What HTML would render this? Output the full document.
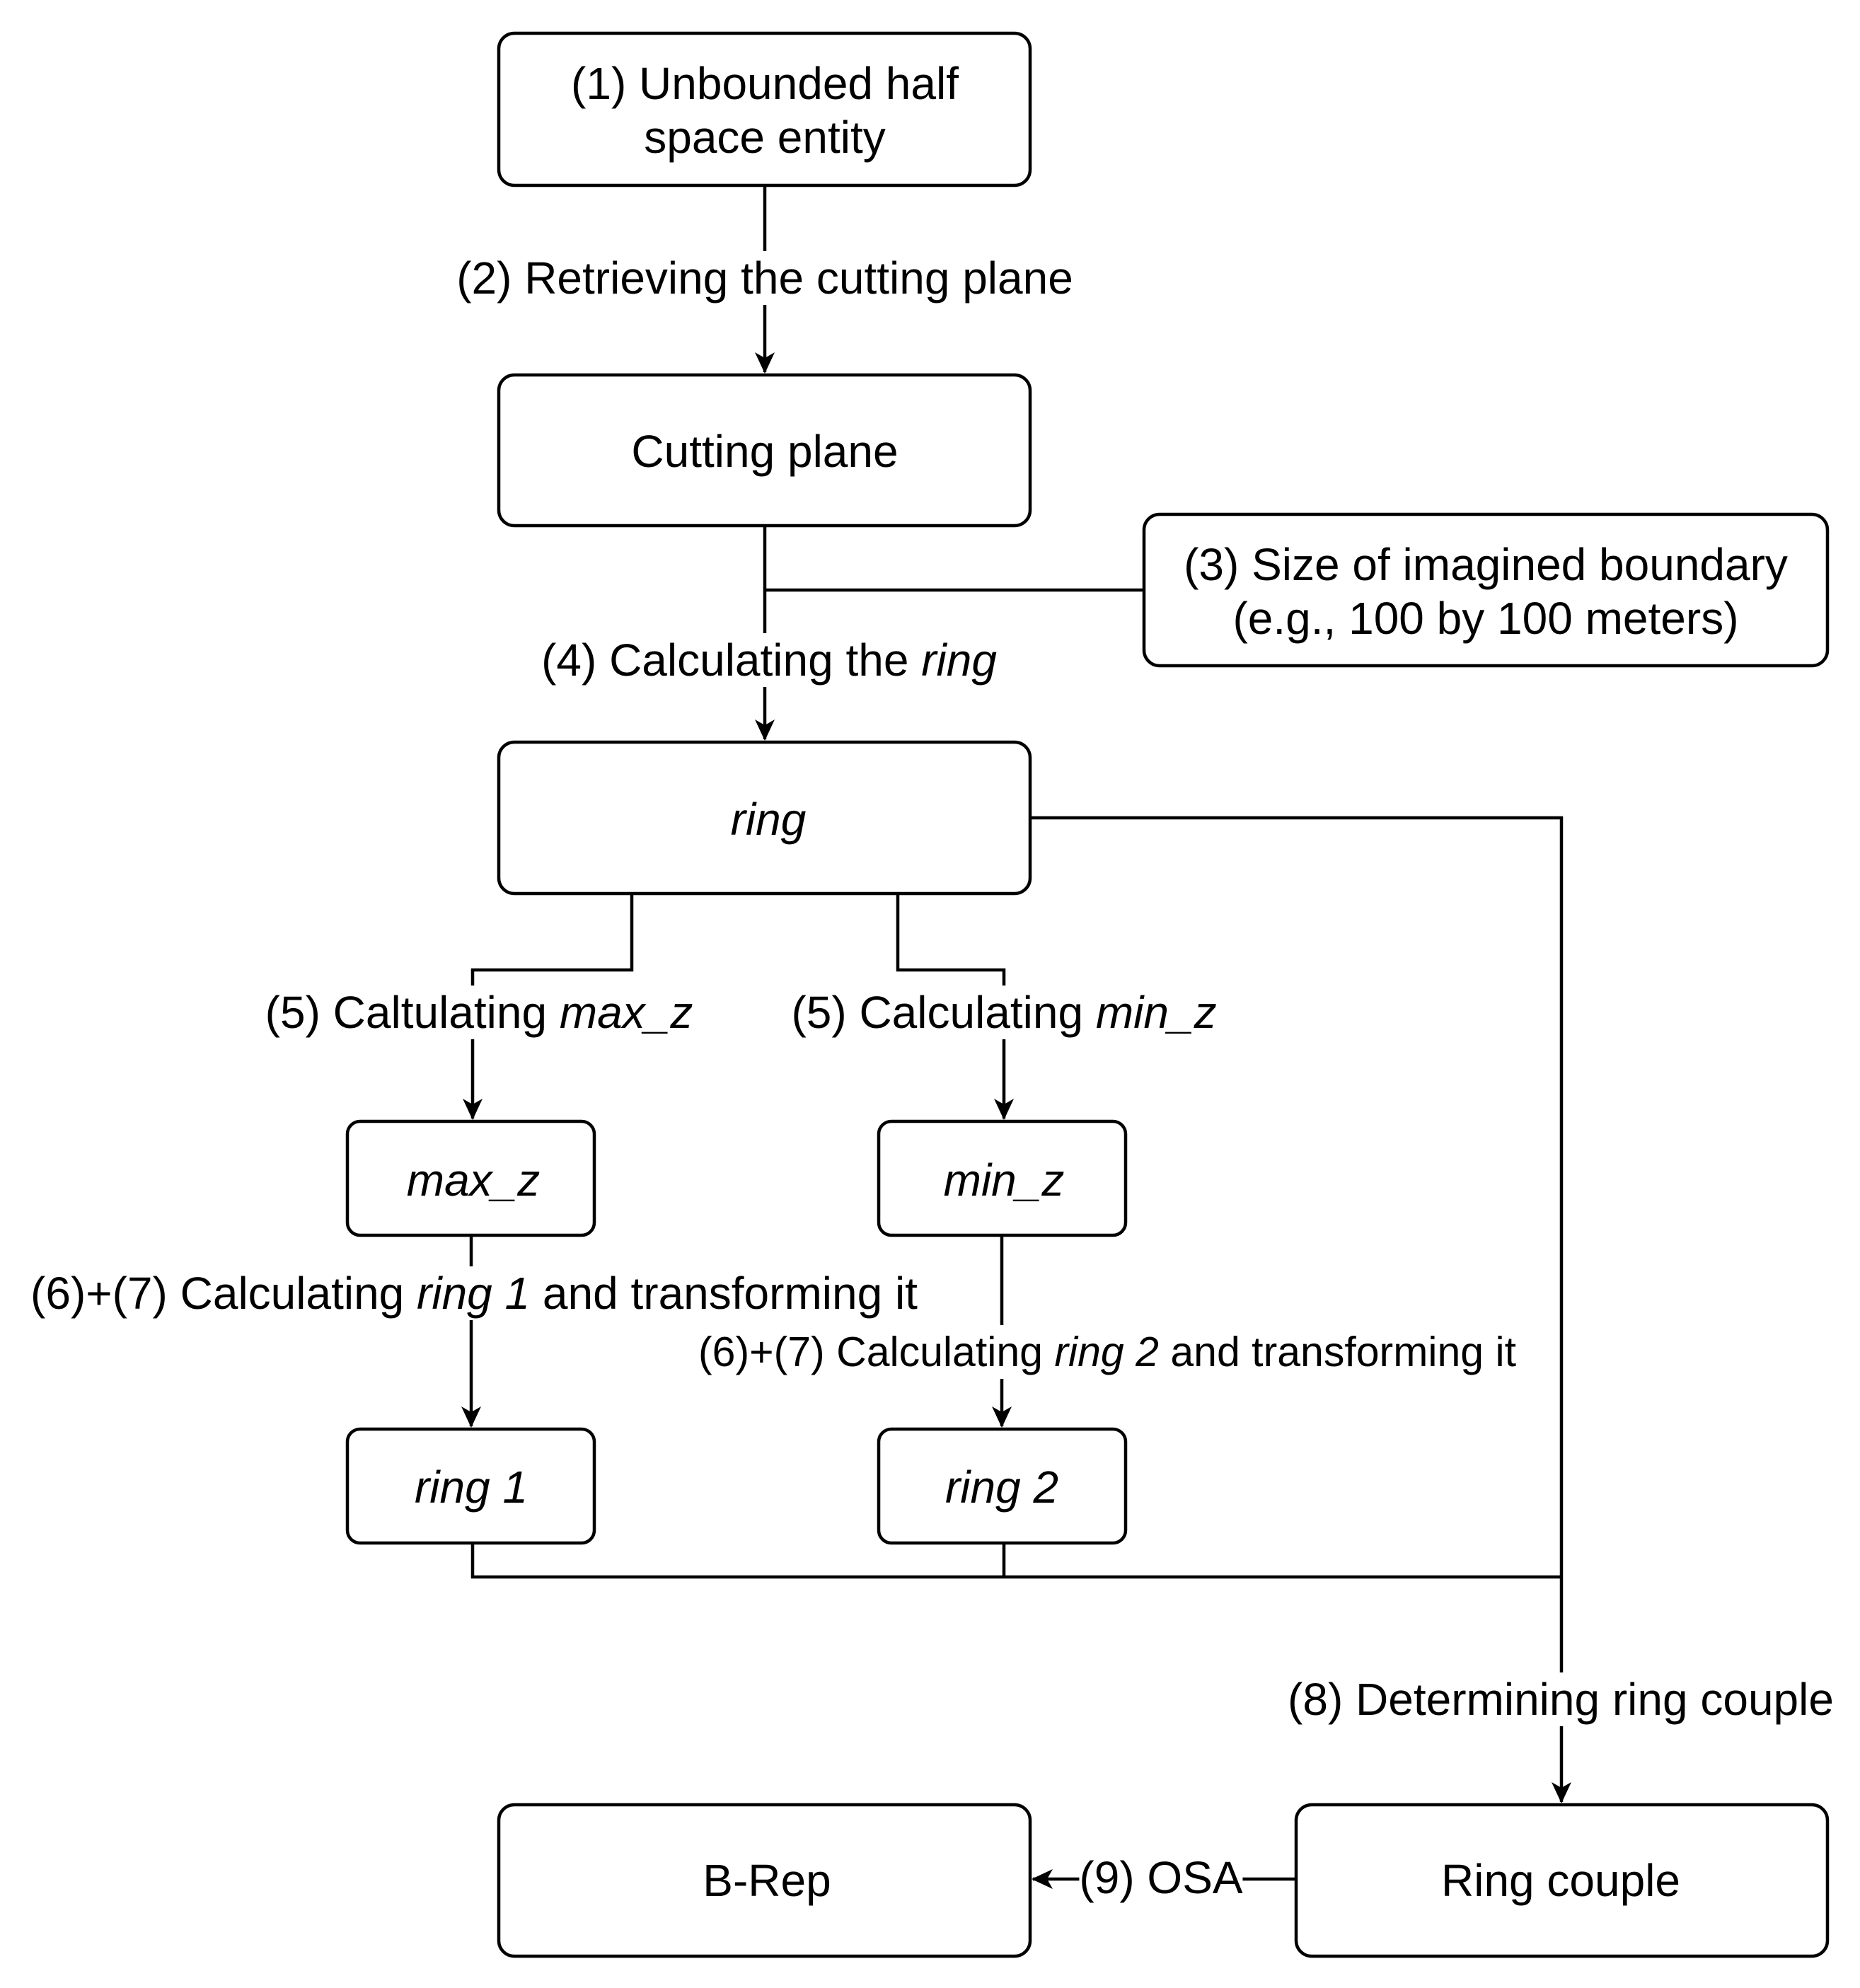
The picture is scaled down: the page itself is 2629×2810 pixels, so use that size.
<!DOCTYPE html>
<html><head><meta charset="utf-8"><style>
html,body{margin:0;padding:0;background:#fff;}
#c{position:relative;width:2629px;height:2810px;overflow:hidden;font-family:"Liberation Sans",Arial,sans-serif;color:#000;}
svg{position:absolute;left:0;top:0;}
.t{position:absolute;white-space:nowrap;font-size:64px;line-height:76px;transform:translate(-50%,-50%);text-align:center;}
.l{background:#fff;}
i{font-style:italic;}
</style></head><body><div id="c">
<svg width="2629" height="2810" viewBox="0 0 2629 2810">
<defs><marker id="a" markerWidth="32" markerHeight="28" refX="28" refY="14" orient="auto" markerUnits="userSpaceOnUse"><path d="M0,0 L30,14 L0,28 L8,14 Z" fill="#000"/></marker></defs>
<g fill="none" stroke="#000" stroke-width="4.5">
<rect x="705" y="47" width="751" height="215" rx="22"/>
<rect x="705" y="530" width="751" height="213" rx="22"/>
<rect x="1617" y="727" width="966" height="214" rx="22"/>
<rect x="705" y="1049" width="751" height="214" rx="22"/>
<rect x="491" y="1585" width="349" height="161" rx="18"/>
<rect x="1242" y="1585" width="349" height="161" rx="18"/>
<rect x="491" y="2020" width="349" height="161" rx="18"/>
<rect x="1242" y="2020" width="349" height="161" rx="18"/>
<rect x="705" y="2551" width="751" height="214" rx="22"/>
<rect x="1832" y="2551" width="751" height="214" rx="22"/>
<path d="M1081 262 V526" marker-end="url(#a)"/>
<path d="M1081 743 V1045" marker-end="url(#a)"/>
<path d="M1081 834 H1617"/>
<path d="M1456 1156 H2207 V2547" marker-end="url(#a)"/>
<path d="M893 1263 V1371 H668 V1581" marker-end="url(#a)"/>
<path d="M1269 1263 V1371 H1419 V1581" marker-end="url(#a)"/>
<path d="M666 1746 V2016" marker-end="url(#a)"/>
<path d="M1416 1746 V2016" marker-end="url(#a)"/>
<path d="M668 2181 V2229 H2207"/>
<path d="M1419 2181 V2229"/>
<path d="M1832 2656 H1460" marker-end="url(#a)"/>
</g></svg>
<div class="t" style="left:1081px;top:156px;">(1) Unbounded half<br>space entity</div>
<div class="t" style="left:1081px;top:638px;">Cutting plane</div>
<div class="t" style="left:2100px;top:836px;">(3) Size of imagined boundary<br>(e.g., 100 by 100 meters)</div>
<div class="t" style="left:1086px;top:1158px;"><i>ring</i></div>
<div class="t" style="left:669px;top:1668px;"><i>max_z</i></div>
<div class="t" style="left:1419px;top:1668px;"><i>min_z</i></div>
<div class="t" style="left:666px;top:2102px;"><i>ring 1</i></div>
<div class="t" style="left:1416px;top:2102px;"><i>ring 2</i></div>
<div class="t" style="left:1084px;top:2658px;">B-Rep</div>
<div class="t" style="left:2206px;top:2658px;">Ring couple</div>
<div class="t l" style="left:1081px;top:393px;">(2) Retrieving the cutting plane</div>
<div class="t l" style="left:1087px;top:933px;">(4) Calculating the <i>ring</i></div>
<div class="t l" style="left:677px;top:1431px;">(5) Caltulating <i>max_z</i></div>
<div class="t l" style="left:1419px;top:1431px;">(5) Calculating <i>min_z</i></div>
<div class="t l" style="left:670px;top:1828px;">(6)+(7) Calculating <i>ring 1</i> and transforming it</div>
<div class="t l" style="left:1565px;top:1911px;font-size:59px;">(6)+(7) Calculating <i>ring 2</i> and transforming it</div>
<div class="t l" style="left:2206px;top:2402px;">(8) Determining ring couple</div>
<div class="t l" style="left:1641px;top:2654px;">(9) OSA</div>
</div></body></html>
